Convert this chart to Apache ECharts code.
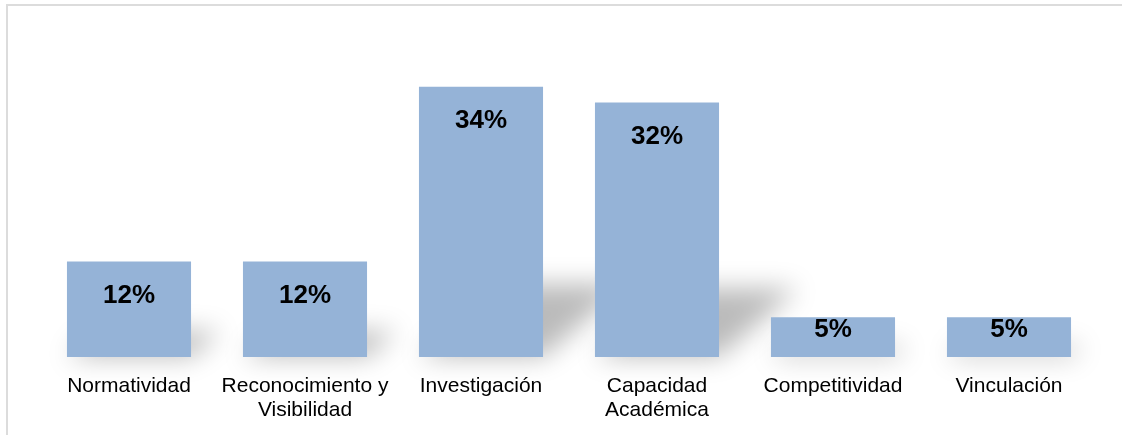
<!DOCTYPE html>
<html>
<head>
<meta charset="utf-8">
<style>
  html, body { margin: 0; padding: 0; background: #ffffff; }
  #chart { width: 1122px; height: 435px; }
</style>
<script src="https://cdn.jsdelivr.net/npm/echarts@6/dist/echarts.min.js"></script>
</head>
<body>
<div id="chart"></div>
<script>
// Share of items per area (percent)
const categories = ['Normatividad', 'Reconocimiento y\nVisibilidad', 'Investigación', 'Capacidad\nAcadémica', 'Competitividad', 'Vinculación'];
const values = [12, 12, 34, 32, 5, 5];

const BAR_RATIO = 0.705;
const BAR_COLOR = '#95b3d7';
const FONT = '"Liberation Sans", Arial, Helvetica, sans-serif';

// Soft perspective shadow cast to the upper right of each bar.
// The polygon itself is drawn far off-canvas and only its blurred shadow lands in place.
function renderShadow(params, api) {
  const idx = api.value(0);
  const val = api.value(1);
  const top = api.coord([idx, val]);
  const base = api.coord([idx, 0]);
  const w = api.size([1, 0])[0] * BAR_RATIO;
  const x0 = base[0] - w / 2;
  const x1 = base[0] + w / 2;
  const h = base[1] - top[1];
  const sh = h * 0.27;
  const dx = sh * 1.15;
  const OFF = 3000;
  const pts = [
    [x0, base[1]],
    [x1, base[1]],
    [x1 + dx, base[1] - sh],
    [x0 + dx, base[1] - sh]
  ].map(p => [p[0] - OFF, p[1]]);
  return {
    type: 'polygon',
    shape: { points: pts },
    style: {
      fill: '#000',
      shadowBlur: 26,
      shadowColor: 'rgba(0,0,0,0.27)',
      shadowOffsetX: OFF,
      shadowOffsetY: 0
    }
  };
}

const barData = values.map(v => ({
  value: v,
  label: { distance: v < 10 ? 0 : 21 }
}));

const chart = echarts.init(document.getElementById('chart'), null, { renderer: 'canvas' });
chart.setOption({
  backgroundColor: '#ffffff',
  animation: false,
  grid: { left: 41, right: 25, top: 39, bottom: 78 },
  xAxis: {
    type: 'category',
    data: categories,
    axisLine: { show: false },
    axisTick: { show: false },
    axisLabel: {
      interval: 0,
      margin: 17,
      color: '#000000',
      fontFamily: FONT,
      fontSize: 21,
      lineHeight: 24
    }
  },
  yAxis: {
    type: 'value',
    min: 0,
    max: 40,
    show: false,
    splitLine: { show: false }
  },
  graphic: [{
    type: 'rect',
    shape: { x: 7, y: 5, width: 1300, height: 600 },
    style: { fill: 'none', stroke: '#dcdcdc', lineWidth: 2 },
    silent: true,
    z: 0
  }],
  series: [
    {
      type: 'custom',
      renderItem: renderShadow,
      data: values.map((v, i) => [i, v]),
      encode: { x: 0, y: 1 },
      clip: false,
      silent: true,
      z: 1
    },
    {
      type: 'bar',
      data: barData,
      barWidth: (BAR_RATIO * 100) + '%',
      itemStyle: { color: BAR_COLOR },
      z: 2,
      label: {
        show: true,
        position: 'insideTop',
        formatter: '{c}%',
        color: '#000000',
        fontFamily: FONT,
        fontWeight: 'bold',
        fontSize: 26
      }
    }
  ]
});
</script>
</body>
</html>
